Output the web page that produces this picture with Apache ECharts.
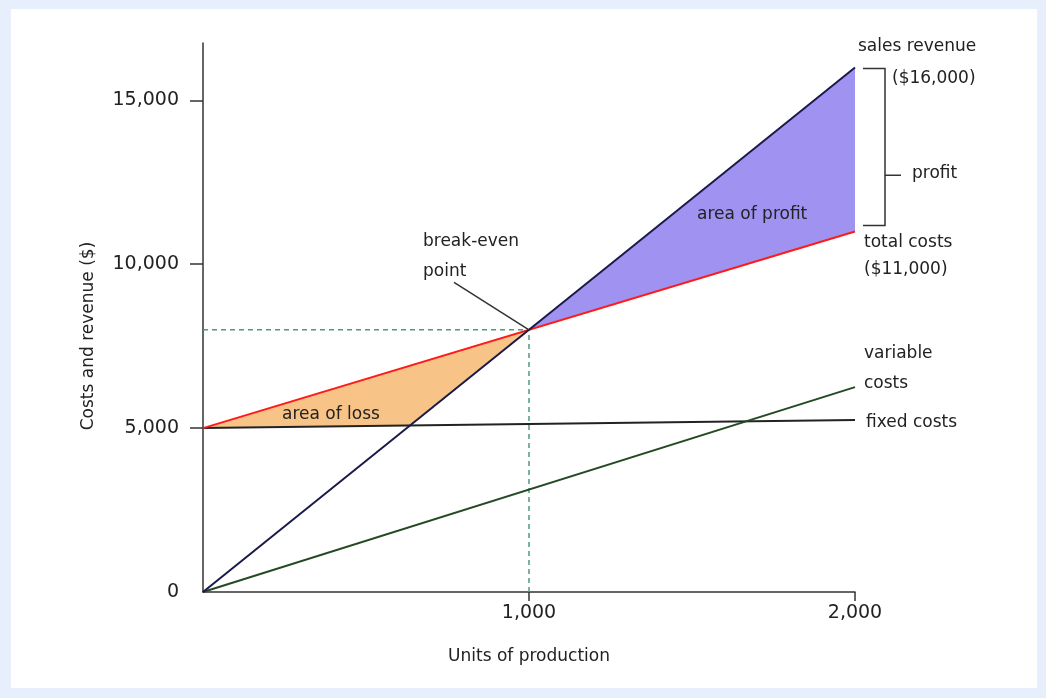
<!DOCTYPE html>
<html>
<head>
<meta charset="utf-8">
<script src="https://cdn.jsdelivr.net/npm/echarts@6/dist/echarts.min.js"></script>
<style>
html,body{margin:0;padding:0;background:#e6effb;}
#c{width:1046px;height:698px;}
</style>
</head>
<body>
<div id="c"></div>
<script>
// ---- data ----
const salesRevenue = [[0, 0], [2000, 16000]];
const totalCosts = [[0, 5000], [2000, 11000]];
const fixedCosts = [[0, 5000], [2000, 5250]];
const variableCosts = [[0, 0], [2000, 6250]];
const xTickValues = [1000, 2000];
const yTickValues = [0, 5000, 10000, 15000];
const breakEvenLabelAnchor = [770, 9450];

function intersect(a, b) {
  const [x1, y1] = a[0], [x2, y2] = a[1], [x3, y3] = b[0], [x4, y4] = b[1];
  const m1 = (y2 - y1) / (x2 - x1), m2 = (y4 - y3) / (x4 - x3);
  const x = (y3 - y1 + m1 * x1 - m2 * x3) / (m1 - m2);
  return [x, y1 + m1 * (x - x1)];
}
const bep = intersect(salesRevenue, totalCosts);
const revFix = intersect(salesRevenue, fixedCosts);
const lossPoly = [totalCosts[0], bep, revFix, fixedCosts[0]];
const profitPoly = [bep, salesRevenue[1], totalCosts[1]];

const FONT = '"DejaVu Sans", sans-serif';
const fmt = v => v.toLocaleString('en-US');

function polySeries(poly, color, z) {
  return {
    type: 'custom', z: z, silent: true,
    data: [[0, 0]],
    renderItem: function (params, api) {
      return {
        type: 'polygon',
        shape: { points: poly.map(p => api.coord(p)) },
        style: { fill: color, stroke: 'none' }
      };
    }
  };
}
function lineSeries(data, color, width, z, dash) {
  return {
    type: 'line', data: data, symbol: 'none', z: z, silent: true,
    lineStyle: { color: color, width: width, type: dash || 'solid' }
  };
}

const chart = echarts.init(document.getElementById('c'), null, { renderer: 'canvas' });
chart.setOption({
  backgroundColor: '#e6effb',
  animation: false,
  grid: { left: 203, right: 191, top: 43, bottom: 106 },
  xAxis: {
    type: 'value', min: 0, max: 2000, interval: 1000,
    name: 'Units of production', nameLocation: 'middle', nameGap: 56,
    nameTextStyle: { fontFamily: FONT, fontSize: 17, color: '#222' },
    axisLine: { show: true, lineStyle: { color: '#333', width: 1.5 } },
    axisTick: { show: true, length: 9, customValues: xTickValues, lineStyle: { color: '#333', width: 1.5 } },
    axisLabel: { customValues: xTickValues, margin: 12, fontFamily: FONT, fontSize: 19, color: '#222', formatter: fmt },
    splitLine: { show: false }
  },
  yAxis: {
    type: 'value', min: 0, max: 16750, interval: 5000,
    axisLine: { show: true, lineStyle: { color: '#333', width: 1.5 } },
    axisTick: { show: true, length: 13, customValues: yTickValues.slice(1), lineStyle: { color: '#333', width: 1.5 } },
    axisLabel: { customValues: yTickValues, margin: 24, fontFamily: FONT, fontSize: 19, color: '#222', formatter: fmt },
    splitLine: { show: false }
  },
  series: [
    polySeries(lossPoly, '#f7c386', 1),
    polySeries(profitPoly, '#a092f1', 1),
    lineSeries([[0, bep[1]], bep], '#4f9a78', 1.5, 2, [5, 4]),
    lineSeries([[bep[0], 0], bep], '#4f9a78', 1.5, 2, [5, 4]),
    lineSeries(fixedCosts, '#222222', 2, 3),
    lineSeries(variableCosts, '#244a24', 2, 3),
    lineSeries(totalCosts, '#ff1a1a', 2, 4),
    lineSeries(salesRevenue, '#1a1a48', 2, 5),
    lineSeries([breakEvenLabelAnchor, bep], '#333333', 1.5, 5)
  ]
});

const pRevEnd = chart.convertToPixel({ gridIndex: 0 }, salesRevenue[1]);
const pTcEnd = chart.convertToPixel({ gridIndex: 0 }, totalCosts[1]);
const bx = pRevEnd[0] + 30;
const topY = pRevEnd[1] + 1;
const botY = pTcEnd[1] - 6;
const midY = topY + (botY - topY) * 0.68;

function txt(s, x, y) {
  return { type: 'text', x: x, y: y, z: 50,
    style: { text: s, font: '17px ' + FONT, fill: '#222', verticalAlign: 'middle', align: 'left' } };
}
chart.setOption({
  graphic: [
    { type: 'rect', z: -100, silent: true, shape: { x: 11, y: 9, width: 1026, height: 679 }, style: { fill: '#ffffff' } },
    { type: 'polyline', z: 50, shape: { points: [[bx - 22, topY], [bx, topY], [bx, botY], [bx - 22, botY]] },
      style: { stroke: '#333', lineWidth: 1.5, fill: null } },
    { type: 'line', z: 50, shape: { x1: bx, y1: midY, x2: bx + 16, y2: midY }, style: { stroke: '#333', lineWidth: 1.5 } },
    txt('sales revenue', 858, 47),
    txt('($16,000)', 892, 79),
    txt('profit', 912, 174),
    txt('area of profit', 697, 215),
    txt('total costs', 864, 243),
    txt('($11,000)', 864, 270),
    txt('break-even', 423, 242),
    txt('point', 423, 272),
    txt('variable', 864, 354),
    txt('costs', 864, 384),
    txt('fixed costs', 866, 423),
    txt('area of loss', 282, 415),
    { type: 'text', x: 89, y: 336, rotation: Math.PI / 2, z: 50,
      style: { text: 'Costs and revenue ($)', font: '17px ' + FONT, fill: '#222', align: 'center', verticalAlign: 'middle' } }
  ]
});
</script>
</body>
</html>
